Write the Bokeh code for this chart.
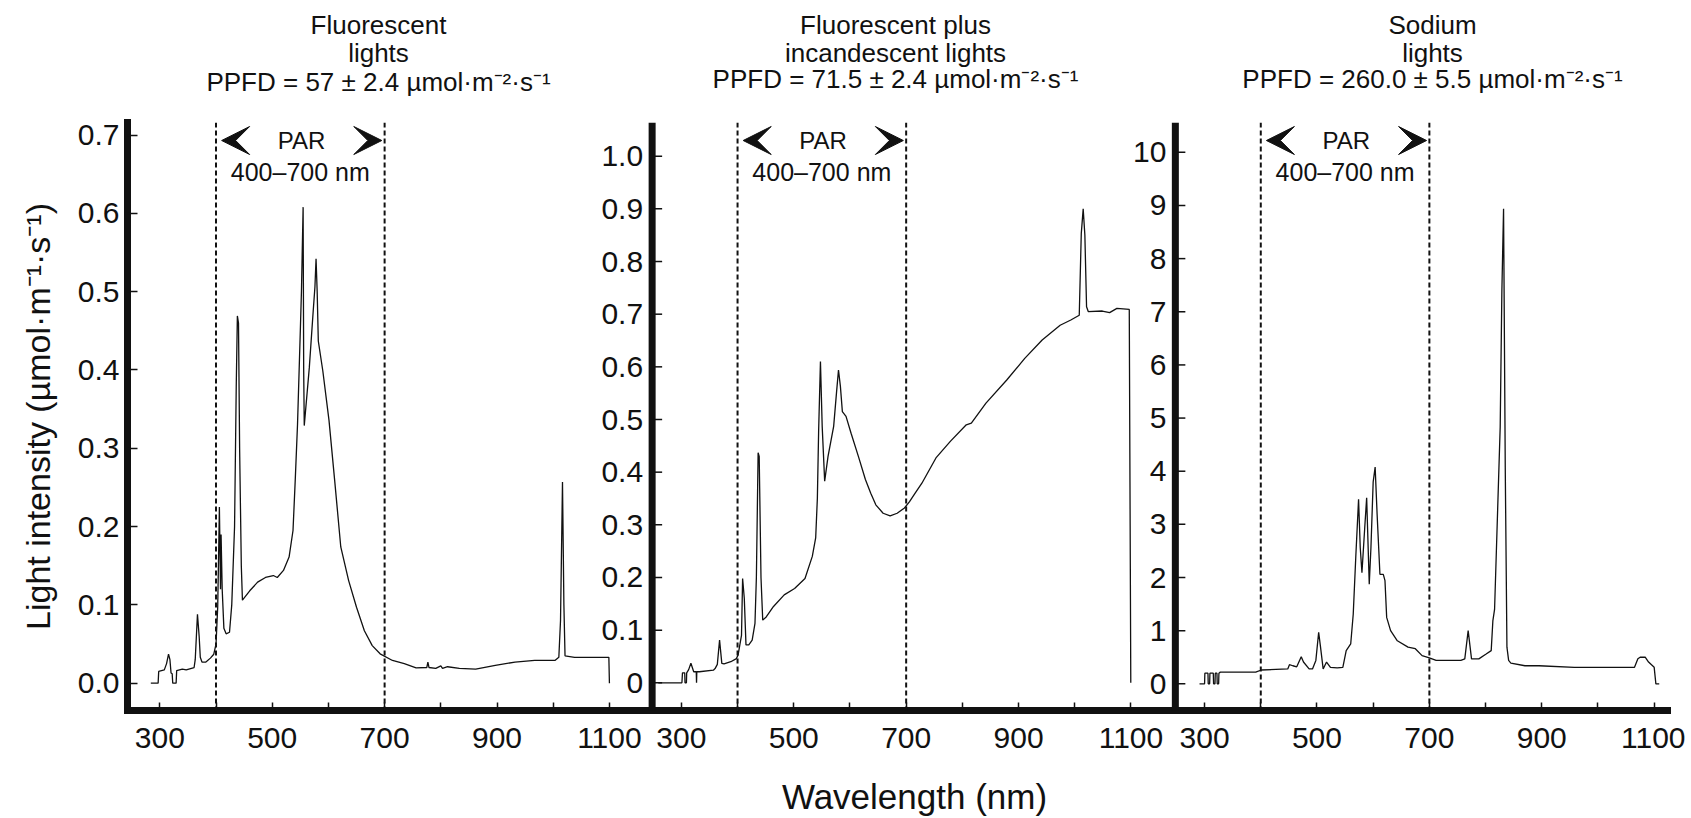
from bokeh.plotting import figure
from bokeh.layouts import column
from bokeh.models import (Range1d, LinearAxis, FixedTicker, PrintfTickFormatter,
                          Span, Label, Arrow, VeeHead)
from bokeh.core.properties import value
from bokeh.embed import file_html
from bokeh.resources import INLINE

# ---------------------------------------------------------------- data
# Fluorescent lights (wavelength nm, light intensity umol m-1 s-1)
fluor_wl = [284, 297, 298, 308, 312, 315.5, 318, 320, 322, 323, 329, 330, 340, 347, 361,
            363, 367, 370, 372, 375, 382, 390, 396, 400, 403, 405, 406, 408, 409, 411,
            414, 418, 424, 428, 433, 436, 438, 440, 442, 445, 447, 460, 474, 488, 502,
            509, 520, 530, 537, 541, 545, 550, 552, 555, 556, 557, 562, 566, 573, 576,
            578, 580, 582, 590, 601, 611, 622, 636, 650, 664, 678, 692, 714, 735, 756,
            775, 777, 779, 791, 800, 803, 812, 833, 862, 897, 932, 967, 1003, 1010, 1013,
            1016.5, 1019, 1021, 1038, 1098, 1099, 1100]
fluor_int = [0.0, 0.0, 0.015, 0.017, 0.025, 0.037, 0.03, 0.013, 0.012, 0.0, 0.0, 0.016,
             0.018, 0.017, 0.02, 0.03, 0.088, 0.06, 0.033, 0.027, 0.027, 0.032, 0.037,
             0.05, 0.097, 0.18, 0.225, 0.12, 0.19, 0.12, 0.07, 0.063, 0.065, 0.10, 0.2,
             0.38, 0.469, 0.46, 0.3, 0.15, 0.106, 0.118, 0.129, 0.135, 0.1375, 0.135,
             0.144, 0.161, 0.195, 0.26, 0.33, 0.45, 0.5, 0.608, 0.40, 0.329, 0.37, 0.403,
             0.476, 0.506, 0.542, 0.50, 0.437, 0.399, 0.336, 0.26, 0.174, 0.131, 0.097,
             0.067, 0.048, 0.0375, 0.029, 0.025, 0.0196, 0.02, 0.027, 0.02, 0.019, 0.022,
             0.019, 0.021, 0.019, 0.018, 0.0226, 0.027, 0.029, 0.029, 0.033, 0.08, 0.257,
             0.1, 0.035, 0.033, 0.033, 0.033, 0.0]

# Fluorescent plus incandescent lights
mix_wl = [259, 301, 302, 306, 306.5, 309, 309.5, 313, 317, 322, 326.5, 327, 327.5, 332,
          357, 360, 364, 368, 372, 376, 388, 398, 401, 407, 409, 412, 415, 420, 426, 431,
          433.5, 436.6, 438.5, 441.7, 444.8, 451, 464, 483, 501.5, 520, 533, 539, 542,
          544.3, 547.5, 550.6, 555, 561, 571, 576, 579.6, 583, 586.5, 593, 602, 615,
          627.5, 637, 646, 659, 671.5, 684, 697, 706, 716, 728, 753, 779, 807, 816, 842,
          879, 911, 942, 974, 993, 1008, 1011.6, 1015, 1018, 1021, 1024, 1049, 1062,
          1075, 1097, 1099.7]
mix_int = [0.0, 0.0, 0.019, 0.019, 0.0, 0.0, 0.019, 0.025, 0.037, 0.021, 0.021, 0.0,
           0.021, 0.021, 0.024, 0.027, 0.035, 0.081, 0.037, 0.036, 0.04, 0.046, 0.053,
           0.09, 0.198, 0.16, 0.072, 0.072, 0.081, 0.113, 0.2, 0.437, 0.43, 0.2, 0.119,
           0.125, 0.145, 0.167, 0.179, 0.198, 0.24, 0.275, 0.35, 0.48, 0.61, 0.487, 0.383,
           0.43, 0.487, 0.55, 0.594, 0.563, 0.515, 0.506, 0.474, 0.43, 0.386, 0.36, 0.338,
           0.322, 0.317, 0.322, 0.332, 0.344, 0.36, 0.379, 0.427, 0.459, 0.49, 0.493,
           0.531, 0.575, 0.616, 0.651, 0.679, 0.689, 0.698, 0.853, 0.9, 0.85, 0.714,
           0.705, 0.706, 0.703, 0.711, 0.709, 0.0]

# Sodium lights
sod_wl = [291, 300, 300.5, 306, 306.5, 309, 309.5, 315.5, 316, 318.5, 319, 322, 322.5,
          325, 325.5, 328, 347, 391, 401, 448, 451, 457, 464, 472, 476, 486, 492, 498,
          503, 506, 511, 517, 524, 536, 546, 552, 560, 564.5, 569, 574, 577, 580, 585,
          588.4, 593, 596, 600, 603.5, 607, 612, 618, 621, 624, 631, 643, 662, 675, 687,
          700, 712, 731, 756, 763, 769, 775, 788, 801, 810, 813, 816, 826, 829, 832, 835,
          838, 841, 845, 870, 895, 958, 1021, 1065, 1071, 1075, 1084, 1090, 1100, 1103,
          1109]
sod_int = [0.0, 0.0, 0.2, 0.2, 0.0, 0.0, 0.2, 0.2, 0.0, 0.0, 0.2, 0.2, 0.0, 0.0, 0.2,
           0.22, 0.22, 0.22, 0.26, 0.28, 0.36, 0.34, 0.32, 0.51, 0.41, 0.28, 0.28, 0.44,
           0.97, 0.72, 0.28, 0.41, 0.31, 0.3, 0.31, 0.625, 0.75, 1.31, 2.375, 3.47, 2.56,
           2.09, 2.94, 3.5, 1.875, 2.56, 3.8, 4.08, 3.19, 2.06, 2.06, 1.94, 1.25, 1.0,
           0.81, 0.69, 0.66, 0.53, 0.49, 0.44, 0.44, 0.44, 0.47, 1.0, 0.47, 0.47, 0.56,
           0.625, 1.19, 1.4, 4.83, 7.4, 8.94, 4.08, 0.69, 0.44, 0.39, 0.34, 0.34, 0.31,
           0.31, 0.31, 0.47, 0.5, 0.5, 0.41, 0.31, 0.0, 0.0]

assert len(fluor_wl) == len(fluor_int)
assert len(mix_wl) == len(mix_int)
assert len(sod_wl) == len(sod_int)

panel_titles = {
    "fluor": ["Fluorescent", "lights", "PPFD = 57 ± 2.4 µmol·m⁻²·s⁻¹"],
    "mix": ["Fluorescent plus", "incandescent lights", "PPFD = 71.5 ± 2.4 µmol·m⁻²·s⁻¹"],
    "sod": ["Sodium", "lights", "PPFD = 260.0 ± 5.5 µmol·m⁻²·s⁻¹"],
}
x_tick_values = [300, 400, 500, 600, 700, 800, 900, 1000, 1100]
x_label_values = [300, 500, 700, 900, 1100]
fluor_yticks = [0.0, 0.1, 0.2, 0.3, 0.4, 0.5, 0.6, 0.7]
mix_yticks = [0.0, 0.1, 0.2, 0.3, 0.4, 0.5, 0.6, 0.7, 0.8, 0.9, 1.0]
mix_ylabels = ["0", "0.1", "0.2", "0.3", "0.4", "0.5", "0.6", "0.7", "0.8", "0.9", "1.0"]
sod_yticks = [0, 1, 2, 3, 4, 5, 6, 7, 8, 9, 10]
sod_ylabels = [str(t) for t in sod_yticks]
par_bounds = [400, 700]
par_text = ["PAR", "400–700 nm"]
x_title = "Wavelength (nm)"
y_title = "Light intensity (µmol·m⁻¹·s⁻¹)"

# ---------------------------------------------------------------- layout
FONT = "Liberation Sans"
INK = "#111111"
W = 1685
TOP_H, MAIN_BOTTOM, PAGE_H = 110, 768, 816          # page rows: titles | plot | x title
FRAME_L, FRAME_R, FRAME_T, FRAME_B = 127, 1667, 122, 710   # page pixels
X_START, X_END = 242.5, 2982.7                      # panel-1 wavelength span of the frame
OFFSETS = {"fluor": 0, "mix": 928, "sod": 1859}     # horizontal shift of each panel (nm)
Y_LIMITS = {"fluor": (-0.0349, 0.7161), "mix": (-0.0526, 1.0640), "sod": (-0.502, 10.561)}
AXIS_LOCAL = 248                                    # inner panels' y-axis position (nm)
TITLE_X = {"fluor": 378, "mix": 895, "sod": 1432}   # page px
TITLE_Y = {"fluor": [24, 52, 81], "mix": [24, 52, 78], "sod": [24, 52, 78]}  # line centres

XR = {"fluor": "default", "mix": "mix_x", "sod": "sod_x"}
YR = {"fluor": "default", "mix": "mix_y", "sod": "sod_y"}


def strip(height, y_top, y_bottom):
    f = figure(width=W, height=height, output_backend="svg", toolbar_location=None,
               title=None, x_range=Range1d(FRAME_L, FRAME_R), y_range=Range1d(y_bottom, y_top),
               x_axis_type=None, y_axis_type=None,
               min_border_left=FRAME_L, min_border_right=W - FRAME_R,
               min_border_top=0, min_border_bottom=0)
    f.outline_line_color = None
    f.background_fill_color = "white"
    f.border_fill_color = "white"
    return f


# ---- title strip
top = strip(TOP_H, 0, TOP_H)
for key in ["fluor", "mix", "sod"]:
    top.text(x=[TITLE_X[key]] * 3, y=TITLE_Y[key], text=panel_titles[key],
             text_align="center", text_baseline="middle", text_font=value(FONT),
             text_font_size="26px", text_color=INK)

# ---- main plot
p = figure(width=W, height=MAIN_BOTTOM - TOP_H, output_backend="svg", toolbar_location=None,
           title=None, x_range=Range1d(X_START, X_END), y_range=Range1d(*Y_LIMITS["fluor"]),
           x_axis_type=None, y_axis_type=None,
           min_border_left=FRAME_L, min_border_right=W - FRAME_R,
           min_border_top=FRAME_T - TOP_H, min_border_bottom=MAIN_BOTTOM - FRAME_B)
p.outline_line_color = None
p.background_fill_color = "white"
p.border_fill_color = "white"
p.extra_x_ranges = {
    "mix_x": Range1d(X_START - OFFSETS["mix"], X_END - OFFSETS["mix"]),
    "sod_x": Range1d(X_START - OFFSETS["sod"], X_END - OFFSETS["sod"]),
}
p.extra_y_ranges = {
    "mix_y": Range1d(*Y_LIMITS["mix"]),
    "sod_y": Range1d(*Y_LIMITS["sod"]),
    "py": Range1d(FRAME_B, FRAME_T),
}

# bottom axis shared by the three panels
majors, minors, overrides = [], [], {}
for key in ["fluor", "mix", "sod"]:
    for t in x_tick_values:
        pos = t + OFFSETS[key]
        if t in x_label_values:
            majors.append(pos)
            overrides[pos] = str(t)
        else:
            minors.append(pos)
xaxis = LinearAxis(ticker=FixedTicker(ticks=majors, minor_ticks=minors),
                   major_label_overrides=overrides,
                   axis_line_width=7, axis_line_color=INK, axis_line_cap="square",
                   major_tick_in=8, major_tick_out=0, major_tick_line_width=1.5,
                   major_tick_line_color=INK,
                   minor_tick_in=8, minor_tick_out=0, minor_tick_line_width=1.5,
                   minor_tick_line_color=INK,
                   major_label_text_font=FONT, major_label_text_font_size="30px",
                   major_label_text_color=INK, major_label_standoff=17)
p.add_layout(xaxis, "below")

# left axis (fluorescent panel)
yaxis = LinearAxis(ticker=FixedTicker(ticks=fluor_yticks),
                   formatter=PrintfTickFormatter(format="%.1f"),
                   axis_label=y_title, axis_label_text_font=FONT,
                   axis_label_text_font_size="34px", axis_label_text_font_style="normal",
                   axis_label_text_color=INK, axis_label_standoff=18,
                   axis_line_width=7, axis_line_color=INK, axis_line_cap="square",
                   major_tick_in=10, major_tick_out=0, major_tick_line_width=1.5,
                   major_tick_line_color=INK, minor_tick_line_color=None,
                   major_label_text_font=FONT, major_label_text_font_size="30px",
                   major_label_text_color=INK, major_label_standoff=8)
p.add_layout(yaxis, "left")

# inner y axes (panels 2 and 3)
for key, ticks, labels in [("mix", mix_yticks, mix_ylabels), ("sod", sod_yticks, sod_ylabels)]:
    p.add_layout(Span(location=AXIS_LOCAL, dimension="height", x_range_name=XR[key],
                      line_color=INK, line_width=7))
    p.ray(x=[AXIS_LOCAL] * len(ticks), y=ticks, length=10, length_units="screen", angle=0,
          x_range_name=XR[key], y_range_name=YR[key], line_color=INK, line_width=1.5)
    p.text(x=[AXIS_LOCAL] * len(ticks), y=ticks, text=labels,
           x_range_name=XR[key], y_range_name=YR[key], x_offset=-9,
           text_align="right", text_baseline="middle", text_font=value(FONT),
           text_font_size="30px", text_color=INK)

# PAR bands and spectra
series = {"fluor": (fluor_wl, fluor_int), "mix": (mix_wl, mix_int), "sod": (sod_wl, sod_int)}
for key in ["fluor", "mix", "sod"]:
    for b in par_bounds:
        p.add_layout(Span(location=b, dimension="height", x_range_name=XR[key],
                          line_color=INK, line_width=2, line_dash="5 3"))
    wl, val = series[key]
    p.line(x=wl, y=val, x_range_name=XR[key], y_range_name=YR[key],
           line_color=INK, line_width=1.3)

    p.add_layout(Label(x=552, y=140, x_range_name=XR[key], y_range_name="py",
                       text=par_text[0], text_align="center", text_baseline="middle",
                       text_font=FONT, text_font_size="24px", text_color=INK))
    p.add_layout(Label(x=550, y=171, x_range_name=XR[key], y_range_name="py",
                       text=par_text[1], text_align="center", text_baseline="middle",
                       text_font=FONT, text_font_size="25px", text_color=INK))
    p.add_layout(Arrow(end=VeeHead(size=28, fill_color=INK, line_color=INK),
                       x_start=470, x_end=410, y_start=140, y_end=140,
                       x_range_name=XR[key], y_range_name="py", line_color=None))
    p.add_layout(Arrow(end=VeeHead(size=28, fill_color=INK, line_color=INK),
                       x_start=635, x_end=695, y_start=140, y_end=140,
                       x_range_name=XR[key], y_range_name="py", line_color=None))

# ---- x title strip
bottom = strip(PAGE_H - MAIN_BOTTOM, MAIN_BOTTOM, PAGE_H)
bottom.text(x=[914], y=[796], text=[x_title], text_align="center", text_baseline="middle",
            text_font=value(FONT), text_font_size="35px", text_color=INK)

layout = column(top, p, bottom, spacing=0)
open("out.html", "w").write(file_html(layout, INLINE))
